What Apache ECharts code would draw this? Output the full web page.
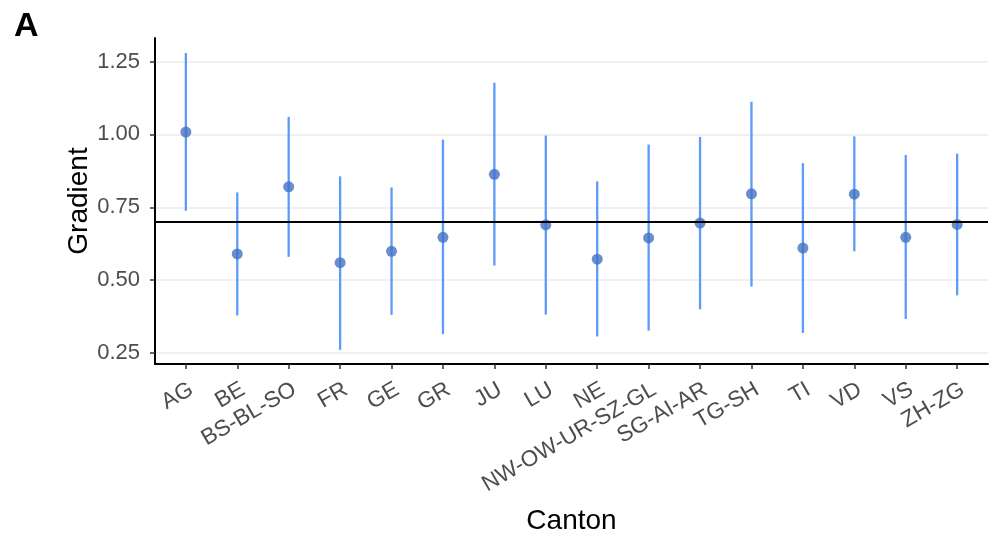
<!DOCTYPE html>
<html>
<head>
<meta charset="utf-8">
<script src="https://cdn.jsdelivr.net/npm/echarts@6/dist/echarts.min.js"></script>
<style>html,body{margin:0;padding:0;background:#fff;}#chart{width:989px;height:540px;}</style>
</head>
<body>
<div id="chart"></div>
<script>
const categories = ['AG','BE','BS-BL-SO','FR','GE','GR','JU','LU','NE','NW-OW-UR-SZ-GL','SG-AI-AR','TG-SH','TI','VD','VS','ZH-ZG'];
const gradient = [1.008, 0.590, 0.820, 0.560, 0.599, 0.647, 0.863, 0.690, 0.572, 0.645, 0.696, 0.796, 0.610, 0.795, 0.647, 0.691];
const lower    = [0.738, 0.379, 0.580, 0.261, 0.381, 0.315, 0.550, 0.382, 0.307, 0.327, 0.400, 0.478, 0.319, 0.599, 0.367, 0.448];
const upper    = [1.279, 0.801, 1.060, 0.856, 0.818, 0.982, 1.177, 0.996, 0.839, 0.965, 0.991, 1.112, 0.901, 0.993, 0.929, 0.934];
const yTicks = [0.25, 0.50, 0.75, 1.00, 1.25];
const refLine = 0.70;

const idx = categories.map((c, i) => i);
const pointData = gradient.map((v, i) => [i, v]);
const barData = lower.map((v, i) => [i, v, upper[i]]);

const chart = echarts.init(document.getElementById('chart'), null, {renderer: 'canvas'});
const font = 'Liberation Sans, Arial, sans-serif';
chart.setOption({
  animation: false,
  backgroundColor: '#ffffff',
  title: {
    text: 'A', left: 9, top: 5,
    textStyle: {fontFamily: font, fontWeight: 'bold', fontSize: 34, color: '#000'}
  },
  grid: {left: 155, right: 1, top: 38, bottom: 176, containLabel: false, outerBoundsMode: 'none'},
  xAxis: {
    type: 'value', min: -0.6, max: 15.6,
    name: 'Canton', nameLocation: 'middle', nameGap: 143, nameMoveOverlap: false,
    nameTextStyle: {fontFamily: font, fontSize: 28, color: '#000'},
    axisLine: {show: true, onZero: false, lineStyle: {color: '#000', width: 2}},
    axisTick: {show: true, customValues: idx, length: 5, lineStyle: {color: '#333', width: 1.5}},
    axisLabel: {
      customValues: idx, rotate: 30, margin: 14,
      align: 'right', verticalAlign: 'top',
      fontFamily: font, fontSize: 22.5, color: '#4D4D4D',
      formatter: v => categories[Math.round(v)]
    },
    splitLine: {show: false}
  },
  yAxis: {
    type: 'value', min: 0.2125, max: 1.3305,
    name: 'Gradient', nameLocation: 'middle', nameGap: 62, nameRotate: 90, nameMoveOverlap: false,
    nameTextStyle: {fontFamily: font, fontSize: 28, color: '#000'},
    axisLine: {show: true, onZero: false, lineStyle: {color: '#000', width: 2}},
    axisTick: {show: true, customValues: yTicks, length: 5, lineStyle: {color: '#333', width: 1.5}},
    axisLabel: {
      customValues: yTicks, margin: 15,
      fontFamily: font, fontSize: 22, color: '#4D4D4D',
      formatter: v => v.toFixed(2)
    },
    splitLine: {show: true, lineStyle: {color: '#EBEBEB', width: 1.5}}
  },
  series: [
    {
      type: 'custom',
      data: barData,
      renderItem: function (params, api) {
        const x = api.value(0);
        const p1 = api.coord([x, api.value(1)]);
        const p2 = api.coord([x, api.value(2)]);
        return {type: 'line', shape: {x1: p1[0], y1: p1[1], x2: p2[0], y2: p2[1]},
                style: {stroke: '#5B9BFA', lineWidth: 2.3}};
      },
      encode: {x: 0, y: [1, 2]},
      z: 3
    },
    {
      type: 'scatter',
      data: pointData,
      symbol: 'circle', symbolSize: 11,
      itemStyle: {color: '#4472C4'},
      z: 4,
      markLine: {
        silent: true, symbol: 'none', label: {show: false},
        lineStyle: {color: '#000', width: 2, type: 'solid'},
        data: [{yAxis: refLine}]
      }
    }
  ]
});
</script>
</body>
</html>
